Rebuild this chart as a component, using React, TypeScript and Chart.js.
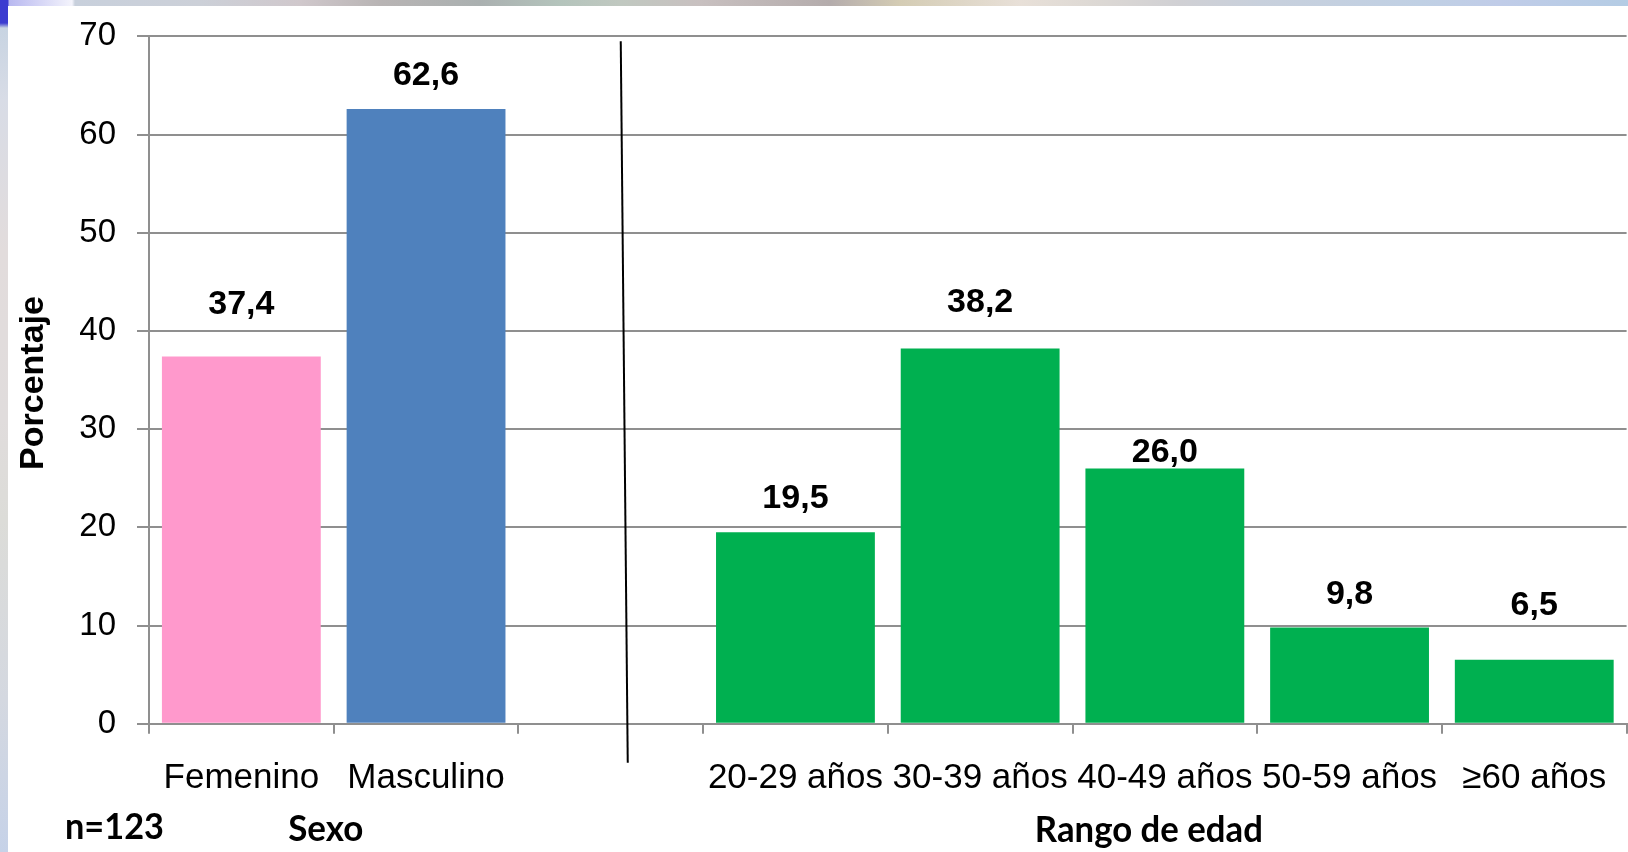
import React, { useEffect, useRef } from 'react';
import { Chart, registerables } from 'chart.js';

Chart.register(...registerables);

// ---- data ----
const categories = ['Femenino', 'Masculino', '', '20-29 años', '30-39 años', '40-49 años', '50-59 años', '≥60 años'];
const sexoValues = [37.4, 62.6, null, null, null, null, null, null];
const edadValues = [null, null, null, 19.5, 38.2, 26.0, 9.8, 6.5];
const yMin = 0;
const yMax = 70;
const yStep = 10;
const yTitle = 'Porcentaje';
const groupTitles = ['Sexo', 'Rango de edad'];
const sampleNote = 'n=123';

// ---- styles ----
const sexoColors = ['#FF99CC', '#4F81BD'];
const edadColor = '#00B050';
const gridColor = '#8f8f8f';
const ARIAL = '"Liberation Sans", Arial, sans-serif';
const CALIBRI = 'Lato, "Open Sans", sans-serif';
// vertical distance (px) from bar top to the centre of its value label
const labelLift = [52, 33, 0, 34, 46, 16, 33, 54];

const fmt = (v: number) => v.toFixed(1).replace('.', ',');

const overlayPlugin = {
  id: 'overlay',
  afterDatasetsDraw(chart: any) {
    const { ctx, chartArea, scales } = chart;
    ctx.save();
    // value labels
    ctx.font = `bold 34px ${ARIAL}`;
    ctx.fillStyle = '#000';
    ctx.textAlign = 'center';
    ctx.textBaseline = 'middle';
    chart.data.datasets.forEach((ds: any, di: number) => {
      const meta = chart.getDatasetMeta(di);
      ds.data.forEach((v: number | null, i: number) => {
        if (v == null) return;
        const el = meta.data[i];
        ctx.fillText(fmt(v), el.x, el.y - labelLift[i]);
      });
    });

    // divider between the two groups
    const xs = scales.x;
    const ys = scales.y;
    const mid = xs.getPixelForValue(2);
    ctx.strokeStyle = '#000';
    ctx.lineWidth = 2;
    ctx.beginPath();
    ctx.moveTo(mid + 10, ys.getPixelForValue(yMax) + 5);
    ctx.lineTo(mid + 17, chartArea.bottom + 39);
    ctx.stroke();

    // y axis title
    ctx.save();
    ctx.translate(34, (chartArea.top + chartArea.bottom) / 2 + 3);
    ctx.rotate(-Math.PI / 2);
    ctx.font = `bold 34px ${ARIAL}`;
    ctx.textAlign = 'center';
    ctx.textBaseline = 'middle';
    ctx.fillText(yTitle, 0, 0);
    ctx.restore();

    // group titles and sample size
    ctx.font = `bold 37px ${CALIBRI}`;
    ctx.textBaseline = 'middle';
    ctx.textAlign = 'center';
    const sexoX = (xs.getPixelForValue(0) + xs.getPixelForValue(1)) / 2;
    const edadX = (xs.getPixelForValue(3) + xs.getPixelForValue(7)) / 2 - 16;
    ctx.fillText(groupTitles[0], sexoX - 8, 829, 75);
    ctx.fillText(groupTitles[1], edadX, 830, 228);
    ctx.textAlign = 'left';
    ctx.fillText(sampleNote, 65, 827, 99);
    ctx.restore();
  },
};

export default function App() {
  const ref = useRef<HTMLCanvasElement | null>(null);

  useEffect(() => {
    document.body.style.margin = '0';
    const canvas = ref.current;
    if (!canvas) return;
    const yTicks: number[] = [];
    for (let v = yMin; v <= yMax; v += yStep) yTicks.push(v);

    const chart = new Chart(canvas, {
      type: 'bar',
      data: {
        labels: categories,
        datasets: [
          {
            label: groupTitles[0],
            data: sexoValues,
            backgroundColor: sexoColors.concat(Array(categories.length - sexoColors.length).fill(edadColor)),
            borderWidth: 0,
            grouped: false,
            categoryPercentage: 1,
            barPercentage: 0.86,
          } as any,
          {
            label: groupTitles[1],
            data: edadValues,
            backgroundColor: edadColor,
            borderWidth: 0,
            grouped: false,
            categoryPercentage: 1,
            barPercentage: 0.86,
          } as any,
        ],
      },
      options: {
        responsive: false,
        animation: false,
        devicePixelRatio: 1,
        layout: { padding: { top: 36.3, right: 1.4, left: 0, bottom: 0 } },
        plugins: { legend: { display: false }, tooltip: { enabled: false } },
        scales: {
          x: {
            offset: true,
            grid: {
              offset: true,
              drawOnChartArea: false,
              drawTicks: true,
              tickLength: 10,
              color: gridColor,
              lineWidth: 2,
            },
            border: { display: true, color: gridColor, width: 2 },
            ticks: {
              color: '#000',
              font: { family: ARIAL, size: 35 },
              padding: 24,
              maxRotation: 0,
              autoSkip: false,
            },
            afterFit: (s: any) => {
              s.height = 852 - 723.7;
              s.paddingLeft = 0;
              s.paddingRight = 0;
            },
          },
          y: {
            min: yMin,
            max: yMax,
            afterBuildTicks: (s: any) => {
              s.ticks = yTicks.map((v) => ({ value: v }));
            },
            grid: { color: gridColor, lineWidth: 2, tickLength: 12, drawTicks: true },
            border: { display: true, color: gridColor, width: 2 },
            ticks: {
              color: '#000',
              font: { family: ARIAL, size: 33 },
              padding: 21,
            },
            afterFit: (s: any) => {
              s.width = 149;
              s.paddingTop = 0;
              s.paddingBottom = 0;
            },
          },
        },
      },
      plugins: [overlayPlugin],
    });
    return () => chart.destroy();
  }, []);

  const topStrip =
    'linear-gradient(to right, #3c3cd0 0px, #3c3cd0 8px, #b8b8f0 9px, #f4f4fc 72px, #c8d0dc 75px, #ccd0d8 200px, #d0c8cc 300px, #b8b4b4 380px, #aab0b0 480px, #b4c4bc 560px, #c0c8c0 620px, #c8c0c0 700px, #b4acac 830px, #d4ccb4 900px, #e8e0d8 1020px, #dcd8d4 1100px, #d0d0d4 1180px, #c8d0dc 1260px, #c0d0e4 1420px, #c0cce8 1500px, #b4cce4 1628px)';
  const leftStrip =
    'linear-gradient(to bottom, #3c3cd0 0px, #3c3cd0 23px, #c8d4e2 28px, #d8dce6 100px, #e2dcdc 250px, #e0dcdc 420px, #dcdcd8 520px, #d4d8e0 700px, #c6d2e8 852px)';

  return (
    <div style={{ position: 'fixed', left: 0, top: 0, width: 1628, height: 852, background: '#fff', overflow: 'hidden' }}>
      <div style={{ position: 'absolute', left: 0, top: 0, width: 1628, height: 6, background: topStrip }} />
      <div style={{ position: 'absolute', left: 0, top: 0, width: 8, height: 852, background: leftStrip }} />
      <canvas ref={ref} width={1628} height={852} style={{ position: 'absolute', left: 0, top: 0, width: 1628, height: 852 }} />
    </div>
  );
}
